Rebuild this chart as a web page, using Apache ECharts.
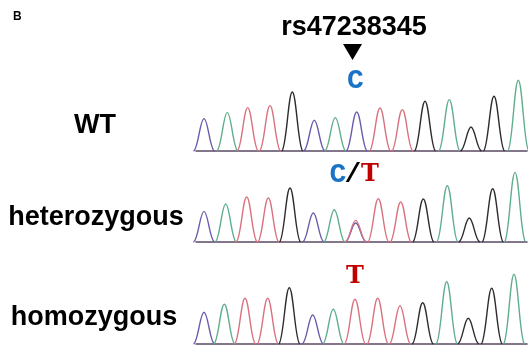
<!DOCTYPE html>
<html>
<head>
<meta charset="utf-8">
<script src="https://cdn.jsdelivr.net/npm/echarts@6/dist/echarts.min.js"></script>
<style>
  html, body { margin: 0; padding: 0; background: #fff; }
  #chart { width: 528px; height: 346px; }
</style>
</head>
<body>
<div id="chart"></div>
<script>
// Chromatogram peaks: scan position, peak height, called base
const panelLabels = ['WT', 'heterozygous', 'homozygous'];

const wtBases = ['C', 'A', 'T', 'T', 'G', 'C', 'A', 'C', 'T', 'T', 'G', 'A', 'G', 'G', 'A'];
const wtPositions = [204, 227.3, 247.7, 270, 292.3, 314.3, 335.3, 356.7, 380, 402.3, 425, 449.3, 471, 494, 518.3];
const wtHeights = [32.4, 38.4, 43.4, 45.4, 59, 30.7, 33.4, 39, 43, 41.4, 49.7, 51.4, 24, 54.7, 70.7];

const hetBases = ['C', 'A', 'T', 'T', 'G', 'C', 'A', 'C', 'T', 'T', 'T', 'G', 'A', 'G', 'G', 'A'];
const hetPositions = [204, 225.7, 246.7, 268.3, 290, 313.3, 334.3, 355.7, 355.7, 378.3, 400.7, 423.3, 447.3, 469.3, 492.7, 515];
const hetHeights = [30.6, 38, 45, 44, 54, 29, 32.3, 19, 21.6, 43.3, 40, 43, 56.3, 24, 53.3, 69.6];

const homBases = ['C', 'A', 'T', 'T', 'G', 'C', 'A', 'T', 'T', 'T', 'G', 'A', 'G', 'G', 'A'];
const homPositions = [204, 224.3, 245, 267.7, 289.3, 312.7, 333.3, 355, 377.7, 400, 422.7, 446.7, 468.3, 491.7, 514];
const homHeights = [31.7, 39.7, 45.7, 45.7, 56.3, 29, 34.7, 44.7, 45.7, 38.3, 41.3, 62.3, 25.7, 55.7, 69.7];

const snpName = 'rs47238345';

const baseColors = { C: '#6a5cab', A: '#5fae8c', T: '#d9717e', G: '#2e2b2e' };
const PEAK_HALF_WIDTH = 10.5;

const panels = [
  { bases: wtBases, positions: wtPositions, heights: wtHeights, top: 71 },
  { bases: hetBases, positions: hetPositions, heights: hetHeights, top: 162 },
  { bases: homBases, positions: homPositions, heights: homHeights, top: 264 }
];

function renderPeak(params, api) {
  const x = api.value(0);
  const h = api.value(1);
  const base = api.value(2);
  const apex = api.coord([x, h]);
  const left = api.coord([x - PEAK_HALF_WIDTH, 0]);
  const right = api.coord([x + PEAK_HALF_WIDTH, 0]);
  const w = apex[0] - left[0];
  const y0 = left[1];
  const hp = y0 - apex[1];
  const path =
    'M' + left[0] + ',' + y0 +
    'C' + (apex[0] - 0.55 * w) + ',' + (y0 - 0.05 * hp) + ' ' +
    (apex[0] - 0.38 * w) + ',' + apex[1] + ' ' + apex[0] + ',' + apex[1] +
    'C' + (apex[0] + 0.38 * w) + ',' + apex[1] + ' ' +
    (apex[0] + 0.55 * w) + ',' + (y0 - 0.05 * hp) + ' ' + right[0] + ',' + y0;
  return {
    type: 'path',
    shape: { pathData: path },
    style: { fill: 'none', stroke: baseColors[base], lineWidth: 1.4 }
  };
}

const grids = [];
const xAxes = [];
const yAxes = [];
const series = [];

panels.forEach((p, i) => {
  grids.push({ left: 196, width: 331, top: p.top, height: 80 });
  xAxes.push({
    gridIndex: i, type: 'value', min: 196, max: 527,
    axisLine: { show: true, lineStyle: { color: '#5b4a66', width: 1.6 } },
    axisTick: { show: false }, axisLabel: { show: false }, splitLine: { show: false }
  });
  yAxes.push({
    gridIndex: i, type: 'value', min: 0, max: 80, show: false, splitLine: { show: false }
  });
  series.push({
    type: 'custom',
    xAxisIndex: i,
    yAxisIndex: i,
    renderItem: renderPeak,
    clip: false,
    data: p.positions.map((pos, k) => [pos, p.heights[k], p.bases[k]]),
    silent: true
  });
});

const labelFont = 'bold 27px "Liberation Sans", Arial, sans-serif';
const callFont = 'bold 28px "Liberation Mono", monospace';
const tFont = 'bold 24px "DejaVu Serif", serif';

function txt(text, x, y, font, fill) {
  return { type: 'text', x: x, y: y, style: { text: text, font: font, fill: fill, align: 'center', verticalAlign: 'middle' } };
}

const graphic = [
  { type: 'text', left: 13, top: 11, style: { text: 'B', font: 'bold 12px "Liberation Sans", Arial', fill: '#000' } },
  txt(snpName, 354, 28, labelFont, '#000'),
  { type: 'polygon', shape: { points: [[343, 44], [362, 44], [352.5, 60]] }, style: { fill: '#000' } },
  txt(panelLabels[0], 95, 126, labelFont, '#000'),
  txt(panelLabels[1], 96, 218, labelFont, '#000'),
  txt(panelLabels[2], 94, 318, labelFont, '#000'),
  txt('C', 355.5, 81, callFont, '#1a73c6'),
  txt('C', 338, 175, callFont, '#1a73c6'),
  txt('/', 353, 175, callFont, '#000'),
  txt('T', 370, 175, tFont, '#c00000'),
  txt('T', 355, 277, tFont, '#c00000')
];

const chart = echarts.init(document.getElementById('chart'), null, { renderer: 'canvas' });
chart.setOption({
  animation: false,
  backgroundColor: '#fff',
  grid: grids,
  xAxis: xAxes,
  yAxis: yAxes,
  series: series,
  graphic: graphic
});
</script>
</body>
</html>
